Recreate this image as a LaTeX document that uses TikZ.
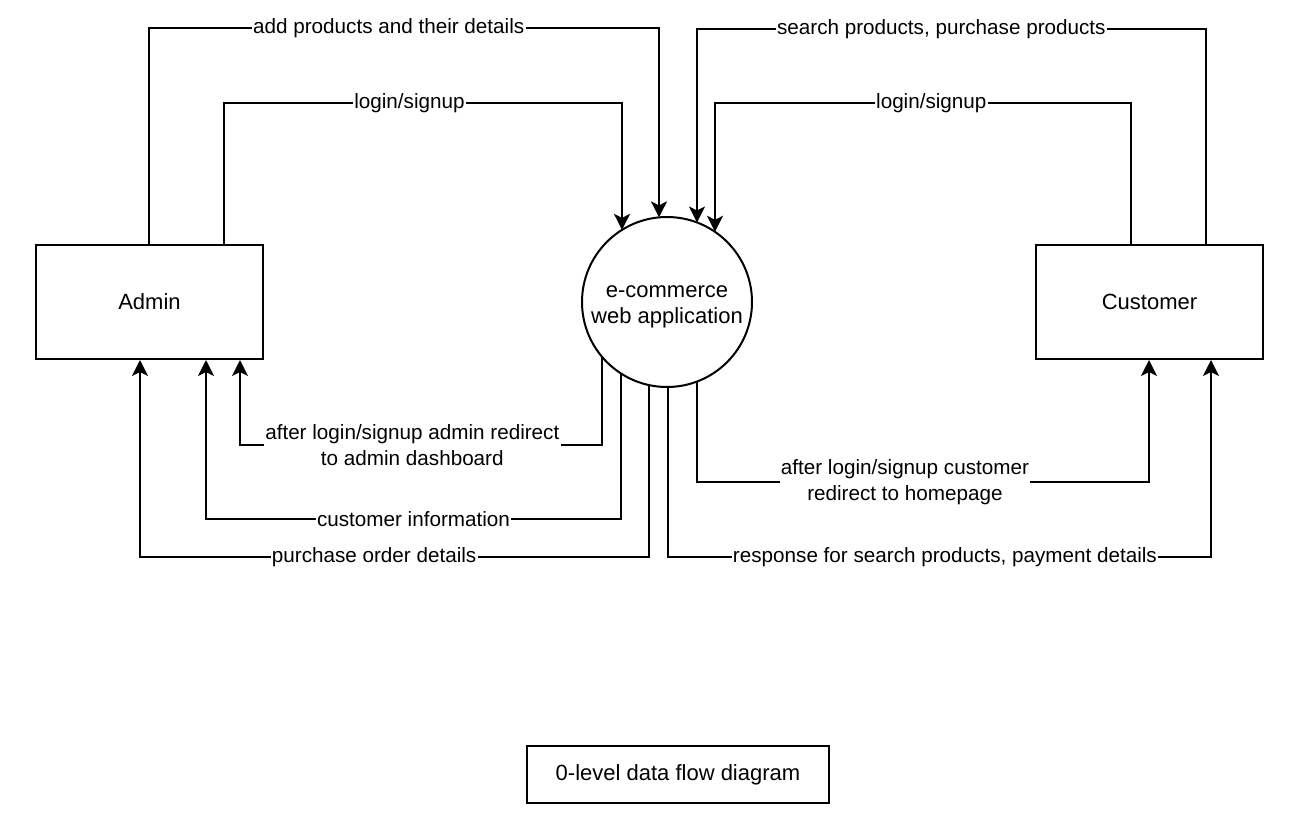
\documentclass[tikz,border=0pt]{standalone}
\usepackage{fontspec}
\setmainfont{Liberation Sans}
\usetikzlibrary{calc,arrows.meta}
\tikzset{
  entity/.style={draw, rectangle, line width=1.5pt, minimum width=170.25pt, minimum height=85.5pt, font=\fontsize{16.5}{19}\selectfont},
  process/.style={draw, circle, line width=1.5pt, minimum size=127.5pt, inner sep=0pt, font=\fontsize{16.5}{20}\selectfont},
  flow/.style={-{Stealth[length=12pt, width=12pt, inset=3pt]}, line width=1.5pt},
  lbl/.style={fill=white, inner sep=1pt, align=center, font=\fontsize{15.5}{19.5}\selectfont}
}

\begin{document}
\begin{tikzpicture}[x={(0.75pt,0)}, y={(0,-0.75pt)}]
      \useasboundingbox (0,0) rectangle (1307,832);
      \node[entity] (admin) at (149.5,302) {Admin};
      \node[entity] (customer) at (1149.5,302) {Customer};
      \node[process] (app) at (667,302) {\raisebox{-6.7pt}[0pt][0pt]{\begin{tabular}{@{}c@{}}e-commerce\\web application\end{tabular}}};
      \node[entity, minimum width=226.5pt, minimum height=42.75pt] (title) at (678,774.5) {0-level data flow diagram};
      % admin -> app
      \draw[flow] ($(admin.north)+(-0.5,0)$) -- ++(0,-216) -| node[lbl, pos=0.235] {add products and their details} ($(app.center)+(-8,-84.6)$);
      \draw[flow] ($(admin.north)+(74.5,0)$) -- ++(0,-141) -| node[lbl, pos=0.233] {login/signup} ($(app.center)+(-45,-72.1)$);
      % customer -> app
      \draw[flow] ($(customer.north)+(56.5,0)$) -- ++(0,-215) -| node[lbl, pos=0.26] {search products, purchase products} ($(app.center)+(30,-79.5)$);
      \draw[flow] ($(customer.north)+(-18.5,0)$) -- ++(0,-141) -| node[lbl, pos=0.24] {login/signup} ($(app.center)+(48,-70.2)$);
      % app -> admin
      \draw[flow] ($(app.center)+(-65,54.8)$) |- ++(0,88) -| node[lbl, pos=0.262] {after login/signup admin redirect\\to admin dashboard} ($(admin.south)+(90.5,0)$);
      \draw[flow] ($(app.center)+(-46,71.5)$) -- ($(app.center)+(-46,217)$) -| node[lbl, pos=0.25] {customer information} ($(admin.south)+(56.5,0)$);
      \draw[flow] ($(app.center)+(-18,83.1)$) -- ($(app.center)+(-18,255)$) -| node[lbl, pos=0.27] {purchase order details} ($(admin.south)+(-9.5,0)$);
      % app -> customer
      \draw[flow] ($(app.center)+(30,79.5)$) -- ($(app.center)+(30,180)$) -| node[lbl, pos=0.23] {after login/signup customer\\redirect to homepage} ($(customer.south)+(-0.5,0)$);
      \draw[flow] ($(app.center)+(1,85)$) -- ($(app.center)+(1,255)$) -| node[lbl, pos=0.255] {response for search products, payment details} ($(customer.south)+(61.5,0)$);
\end{tikzpicture}
\end{document}
